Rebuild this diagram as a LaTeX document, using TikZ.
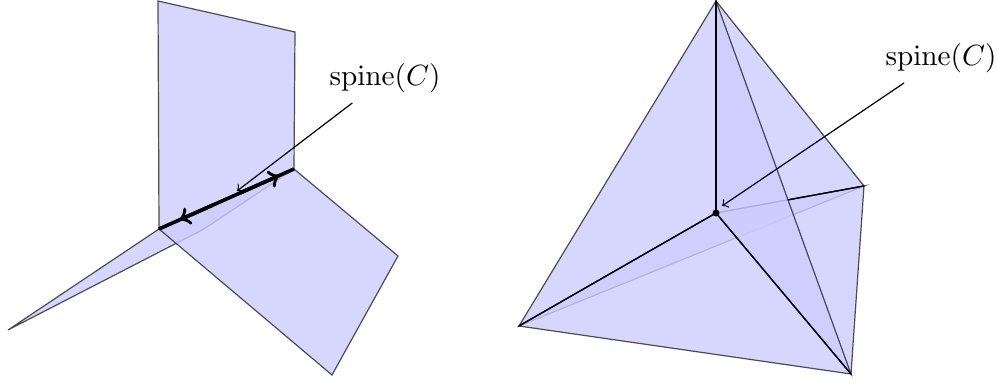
\documentclass[tikz,border=0pt]{standalone}
\usepackage{amsmath}
\usetikzlibrary{calc}
\tikzset{
	sheet/.style={draw=black!85,line width=0.4pt,fill=blue!20,opacity=0.8},
	spine/.style={draw=black,very thick},
	rib/.style={draw=black,line width=0.45pt},
	spinelabel/.style={scale=0.975}
}
\begin{document}
\begin{tikzpicture}[x=0.3333pt,y=-0.3333pt]
	\useasboundingbox (0,0) rectangle (997,381);

	\begin{scope}[shift={(0,0)}]
		% Punkte
		\coordinate (P) at (159,229);
		\coordinate (Q) at (294,169);
		\coordinate (A) at (8,330);
		\coordinate (Akink) at (204,229);
		\coordinate (Btop) at (158,1);
		\coordinate (Cright) at (295,32);
		\coordinate (D) at (332,375);
		\coordinate (E) at (398,256);
		\coordinate (tipL) at (237,191);

		% Blaetter
		\filldraw[sheet] (A) -- (P) -- (Q) -- (Akink) -- cycle;
		\filldraw[sheet] (P) -- (D) -- (E) -- (Q) -- cycle;
		\filldraw[sheet] (P) -- (Btop) -- (Cright) -- (Q) -- cycle;

		\node[spinelabel] (labelL) at (385,78) {$\operatorname{spine}(C)$};
		\draw[->] (labelL) -- (tipL);

		% Kante
		\draw[spine] (P) -- (Q);
		\draw[spine,->] ($(P)!0.4!(Q)$) -- ($(P)!0.155!(Q)$);
		\draw[spine,->] ($(P)!0.6!(Q)$) -- ($(P)!0.89!(Q)$);
	\end{scope}

	\begin{scope}[shift={(516,0)}]
		% Punkte
		\coordinate (T) at (200,1);
		\coordinate (O) at (200,213);
		\coordinate (L) at (3,326);
		\coordinate (B) at (335,374);
		\coordinate (R) at (348,186);
		\coordinate (tipR) at (206,206);
		\coordinate (X) at (intersection of O--R and T--B);

		% Blaetter
		\filldraw[sheet] (L) -- (O) -- (R) -- cycle;
		\filldraw[sheet] (T) -- (O) -- (R) -- cycle;
		\filldraw[sheet] (O) -- (R) -- (B) -- cycle;
		\filldraw[sheet] (T) -- (O) -- (L) -- cycle;
		\filldraw[sheet] (L) -- (O) -- (B) -- cycle;
		\filldraw[sheet] (T) -- (O) -- (B) -- cycle;

		% Kanten
		\draw[rib] (O) -- (T);
		\draw[rib] (O) -- (L);
		\draw[rib] (O) -- (B);
		\draw[rib] (X) -- (R);
		\fill (O) circle (3.5);

		\node[spinelabel] (labelR) at (425,58) {$\operatorname{spine}(C)$};
		\draw[->] (labelR) -- (tipR);
	\end{scope}
\end{tikzpicture}
\end{document}
